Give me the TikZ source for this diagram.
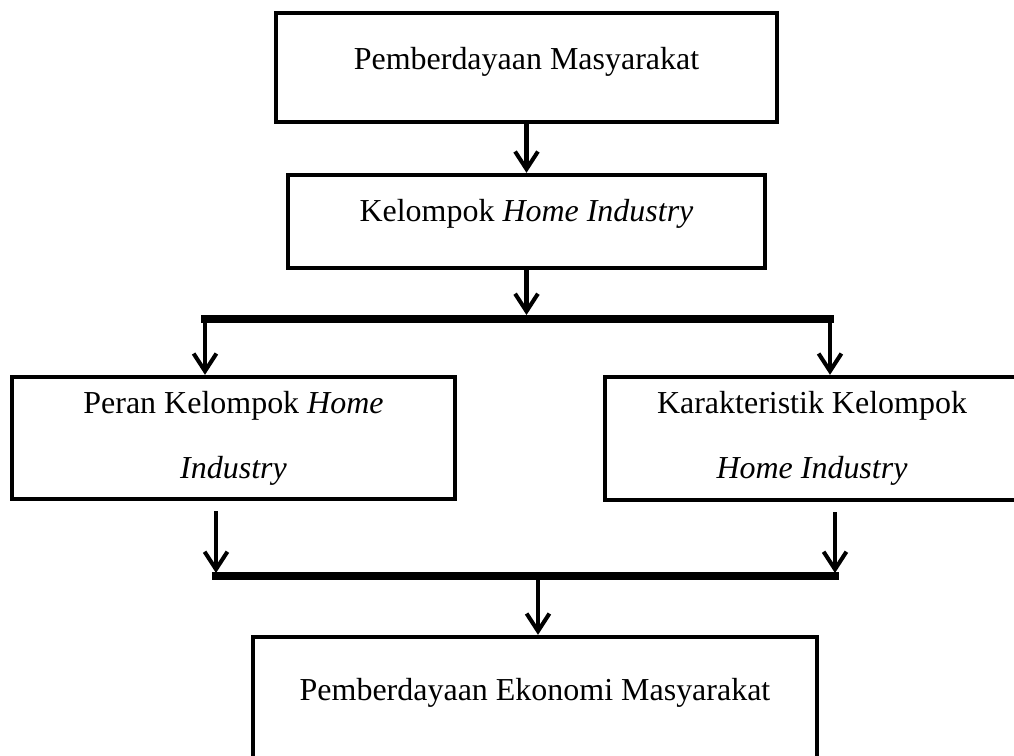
\documentclass[tikz,border=0pt]{standalone}
\usepackage{fontspec}
\setmainfont{Liberation Serif}
\usetikzlibrary{arrows.meta}
\tikzset{
  kotak/.style={draw, line width=2.5pt, inner sep=0pt, align=center},
  panah/.style={line width=2.3pt, -{Straight Barb[length=10pt,width=13pt]}},
  garis/.style={line width=4.5pt, line cap=rect}
}

\begin{document}
\begin{tikzpicture}[x=0.02cm, y=-0.02cm, font=\fontsize{18.2pt}{37pt}\selectfont]
  \useasboundingbox (0,0) rectangle (1014,756);
  % kotak
  \node[kotak, minimum width=10.02cm, text height=1.14cm, text depth=1.04cm] (pm) at (526.5,67.5) {Pemberdayaan Masyarakat};
  \node[kotak, minimum width=9.54cm, text height=0.94cm, text depth=0.92cm] (kh) at (526.5,221.5) {Kelompok \textit{Home Industry}};
  \node[kotak, minimum width=8.86cm, minimum height=2.44cm] (peran) at (233.5,438) {Peran Kelompok \textit{Home}\\ \textit{Industry}};
  \node[kotak, minimum width=8.28cm, minimum height=2.46cm] (karakter) at (812,438.5) {Karakteristik Kelompok\\ \textit{Home Industry}};
  \node[kotak, minimum width=11.28cm, text height=1.26cm, text depth=1.2cm] (pem) at (535,698.5) {Pemberdayaan Ekonomi Masyarakat};
  % titik cabang
  \coordinate (ta) at (526.5,315);
  \coordinate (ck) at (205,319);
  \coordinate (cn) at (830,319);
  \coordinate (bk) at (216,576);
  \coordinate (bn) at (835,576);
  \coordinate (bt) at (538,576);
  % garis dan panah
  \draw[panah] (pm) -- (kh);
  \draw[panah] (kh) -- (ta);
  \draw[garis] (ck) -- (cn);
  \draw[panah] (ck) -- (ck |- peran.north);
  \draw[panah] (cn) -- (cn |- karakter.north);
  \draw[panah, shorten <=0.2cm, shorten >=0.06cm] (bk |- peran.south) -- (bk);
  \draw[panah, shorten <=0.2cm, shorten >=0.06cm] (bn |- karakter.south) -- (bn);
  \draw[garis, line width=4.2pt] (bk) -- (bn);
  \draw[panah] (bt) -- (bt |- pem.north);
\end{tikzpicture}
\end{document}
